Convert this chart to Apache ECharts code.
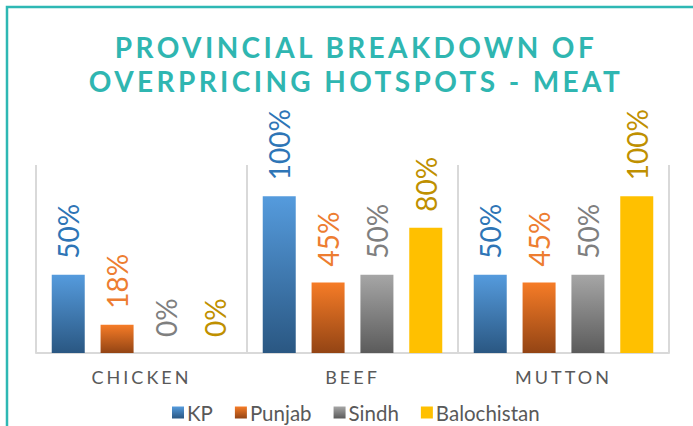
<!DOCTYPE html>
<html>
<head>
<meta charset="utf-8">
<script src="https://cdn.jsdelivr.net/npm/echarts@6/dist/echarts.min.js"></script>
<style>
  html, body { margin: 0; padding: 0; background: #ffffff; }
  #chart { width: 693px; height: 426px; }
</style>
</head>
<body>
<div id="chart"></div>
<script>
const titleLines = ['PROVINCIAL BREAKDOWN OF', 'OVERPRICING HOTSPOTS - MEAT'];
const categories = ['CHICKEN', 'BEEF', 'MUTTON'];
const seriesNames = ['KP', 'Punjab', 'Sindh', 'Balochistan'];
const kpValues = [0.50, 1.00, 0.50];
const punjabValues = [0.18, 0.45, 0.45];
const sindhValues = [0.00, 0.50, 0.50];
const balochistanValues = [0.00, 0.80, 1.00];

const FONT = 'Lato, "Open Sans", sans-serif';

function grad(top, bottom) {
  return new echarts.graphic.LinearGradient(0, 0, 0, 1, [
    { offset: 0, color: top }, { offset: 1, color: bottom }
  ]);
}

const styles = [
  { fill: grad('#559BDD', '#2A5782'), label: '#2E75B6' },
  { fill: grad('#F67C27', '#934414'), label: '#ED7D31' },
  { fill: grad('#A6A6A6', '#5B5B5B'), label: '#7F7F7F' },
  { fill: '#FFC000', label: '#BF9000' }
];
const values = [kpValues, punjabValues, sindhValues, balochistanValues];

const chart = echarts.init(document.getElementById('chart'), null, { renderer: 'svg' });

const option = {
  animation: false,
  backgroundColor: '#ffffff',
  title: {
    text: titleLines.join('\n'),
    left: 351,
    top: 25,
    textAlign: 'center',
    textStyle: {
      fontFamily: FONT,
      fontWeight: 'bold',
      fontSize: 28,
      lineHeight: 34,
      color: '#2FB6B1'
    }
  },
  graphic: [{
    type: 'rect',
    z: -10,
    shape: { x: 7, y: 7, width: 720, height: 460 },
    style: { fill: 'none', stroke: '#2EB8B4', lineWidth: 2.5 }
  }],
  legend: {
    data: seriesNames,
    left: 167,
    top: 397,
    icon: 'rect',
    itemWidth: 12,
    itemHeight: 12,
    itemGap: 22,
    textStyle: { fontFamily: FONT, fontSize: 20.5, color: '#595959', padding: [0, 0, 0, -2] }
  },
  grid: { left: 36, right: 24, top: 165, bottom: 73 },
  xAxis: {
    type: 'category',
    data: categories,
    axisLine: { lineStyle: { color: '#D9D9D9', width: 2 } },
    axisTick: { show: false },
    splitLine: { show: true, lineStyle: { color: '#D9D9D9', width: 2 } },
    axisLabel: { fontFamily: FONT, fontSize: 18, color: '#595959', margin: 15 }
  },
  yAxis: {
    type: 'value',
    min: 0,
    max: 1.2,
    show: false,
    splitLine: { show: false }
  },
  series: seriesNames.map((name, i) => ({
    name: name,
    type: 'bar',
    data: values[i],
    barWidth: 33,
    barGap: '48%',
    itemStyle: { color: styles[i].fill },
    label: {
      show: true,
      position: 'top',
      rotate: 90,
      align: 'left',
      verticalAlign: 'middle',
      distance: 16,
      fontFamily: FONT,
      fontSize: 28,
      color: styles[i].label,
      formatter: p => Math.round(p.value * 100) + '%'
    }
  }))
};

chart.setOption(option);

function applySpacing() {
  document.querySelectorAll('#chart text').forEach(t => {
    const s = t.textContent.trim();
    if (titleLines.includes(s)) t.style.letterSpacing = '3.4px';
    else if (categories.includes(s)) t.style.letterSpacing = '3px';
  });
}
applySpacing();
chart.on('finished', applySpacing);
</script>
</body>
</html>
